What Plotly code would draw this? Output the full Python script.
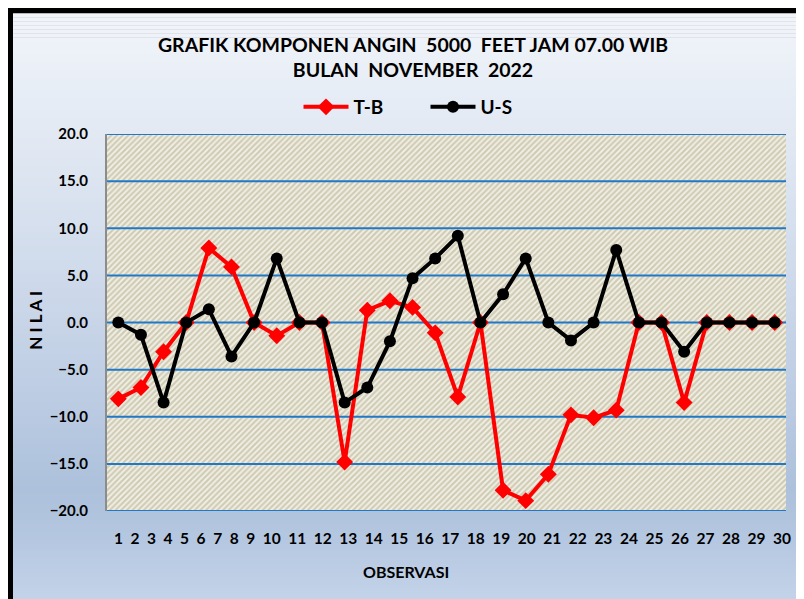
import plotly.graph_objects as go

# data
observasi = list(range(1, 31))
tb = [-8.1, -6.9, -3.1, 0.0, 7.9, 5.9, 0.0, -1.4, 0.0, 0.0,
      -14.8, 1.3, 2.3, 1.6, -1.1, -7.9, 0.0, -17.8, -18.9, -16.1,
      -9.8, -10.1, -9.3, 0.0, 0.0, -8.5, 0.0, 0.0, 0.0, 0.0]
us = [0.0, -1.3, -8.5, 0.0, 1.4, -3.6, 0.0, 6.8, 0.0, 0.0,
      -8.5, -6.9, -2.0, 4.7, 6.8, 9.2, 0.0, 3.0, 6.8, 0.0,
      -1.9, 0.0, 7.7, 0.0, 0.0, -3.1, 0.0, 0.0, 0.0, 0.0]
y_ticks = [-20, -15, -10, -5, 0, 5, 10, 15, 20]

W, H = 804, 599
OFF = 8  # page body margin, positions below are read in page pixels
L = 107 - OFF
T = 134 - OFF
R = W - (786 - OFF)
B = H - (511.5 - OFF)
PW = W - L - R
PH = H - T - B
X_RANGE = [0.5, 30.5]
Y_RANGE = [-20, 20]
FONT = "Lato"


def pxx(x):
    return (x - OFF - L) / PW


def pxy(y):
    return (H - B - (y - OFF)) / PH


def hex2rgb(h):
    return tuple(int(h[i:i + 2], 16) for i in (1, 3, 5))


def grad(y, stops):
    for (y0, c0), (y1, c1) in zip(stops, stops[1:]):
        if y0 <= y <= y1:
            t = (y - y0) / (y1 - y0)
            a, b = hex2rgb(c0), hex2rgb(c1)
            return "rgb(%d,%d,%d)" % tuple(round(a[i] + (b[i] - a[i]) * t) for i in range(3))
    return stops[-1][1]


stops = [(0, "#f3f6fb"), (134, "#e2e9f3"), (322, "#c8d5e8"),
         (490, "#adc1dc"), (520, "#b1c4de"), (620, "#c7d6eb")]

shapes = [dict(type="rect", xref="paper", yref="paper", layer="below",
               x0=pxx(0), x1=pxx(830), y0=pxy(0), y1=pxy(630),
               fillcolor="black", line_width=0)]
step = 4
for y in range(13, 620, step):
    shapes.append(dict(type="rect", xref="paper", yref="paper", layer="below",
                       x0=pxx(13), x1=pxx(830), y0=pxy(y), y1=pxy(y + step + 0.5),
                       fillcolor=grad(y + step / 2, stops), line_width=0))

fig = go.Figure()

# hatched plot area
fig.add_trace(go.Scatter(
    x=[X_RANGE[0], X_RANGE[1], X_RANGE[1], X_RANGE[0], X_RANGE[0]],
    y=[Y_RANGE[0], Y_RANGE[0], Y_RANGE[1], Y_RANGE[1], Y_RANGE[0]],
    mode="lines", fill="toself", line_width=0, hoverinfo="skip", showlegend=False,
    fillcolor="rgba(0,0,0,0)",
    fillpattern=dict(shape="/", fgcolor="#aca681", bgcolor="#f3f1e8", size=4, solidity=0.55),
))

# horizontal grid lines on top of the hatch
gx, gy = [], []
for v in y_ticks:
    gx += [X_RANGE[0], X_RANGE[1], None]
    gy += [v, v, None]
fig.add_trace(go.Scatter(x=gx, y=gy, mode="lines", line=dict(color="#1f78c8", width=2),
                         hoverinfo="skip", showlegend=False))

fig.add_trace(go.Scatter(x=observasi, y=tb, name="T-B", mode="lines+markers",
                         line=dict(color="#ff0000", width=4),
                         marker=dict(symbol="diamond", size=13, color="#ff0000")))
fig.add_trace(go.Scatter(x=observasi, y=us, name="U-S", mode="lines+markers",
                         line=dict(color="#000000", width=4),
                         marker=dict(symbol="circle", size=12, color="#000000")))

annotations = [
    dict(text="\u00a0\u00a0".join(str(i) for i in observasi), xref="paper", yref="paper",
         x=pxx(452.5), y=pxy(539), showarrow=False, xanchor="center", yanchor="middle",
         font=dict(family=FONT, size=15.5, color="black", weight="bold")),
    dict(text="OBSERVASI", xref="paper", yref="paper", x=pxx(406), y=pxy(572),
         showarrow=False, xanchor="center", yanchor="middle",
         font=dict(family=FONT, size=16, color="black", weight="bold")),
    dict(text="N I L A I", xref="paper", yref="paper", x=pxx(36), y=pxy(321),
         showarrow=False, textangle=-90, xanchor="center", yanchor="middle",
         font=dict(family=FONT, size=17, color="black", weight="bold")),
]

fig.update_layout(
    width=W, height=H,
    margin=dict(l=L, r=R, t=T, b=B, autoexpand=False),
    paper_bgcolor="white",
    plot_bgcolor="rgba(0,0,0,0)",
    shapes=shapes,
    annotations=annotations,
    title=dict(text="GRAFIK KOMPONEN ANGIN\u00a0 5000\u00a0 FEET JAM 07.00 WIB<br>BULAN\u00a0 NOVEMBER\u00a0 2022",
               x=(413 - OFF) / W, xanchor="center", y=1 - 44 / H, yanchor="middle",
               font=dict(family=FONT, size=19.5, color="black", weight="bold")),
    legend=dict(orientation="h", xref="container", x=(425.5 - OFF) / W, xanchor="center",
                yref="container", y=1 - 99 / H, yanchor="middle",
                itemwidth=45, entrywidth=67,
                font=dict(family=FONT, size=19, color="black", weight="bold"),
                bgcolor="rgba(0,0,0,0)"),
    xaxis=dict(range=X_RANGE, showgrid=False, zeroline=False, showticklabels=False,
               showline=False, fixedrange=True),
    yaxis=dict(range=Y_RANGE, tickvals=y_ticks, tickformat=".1f", showgrid=False,
               zeroline=False, showline=True, linecolor="#8c8c8c", linewidth=2,
               ticks="", ticklabelstandoff=14,
               tickfont=dict(family=FONT, size=15, color="black", weight="bold")),
)

fig.write_html("out.html")
